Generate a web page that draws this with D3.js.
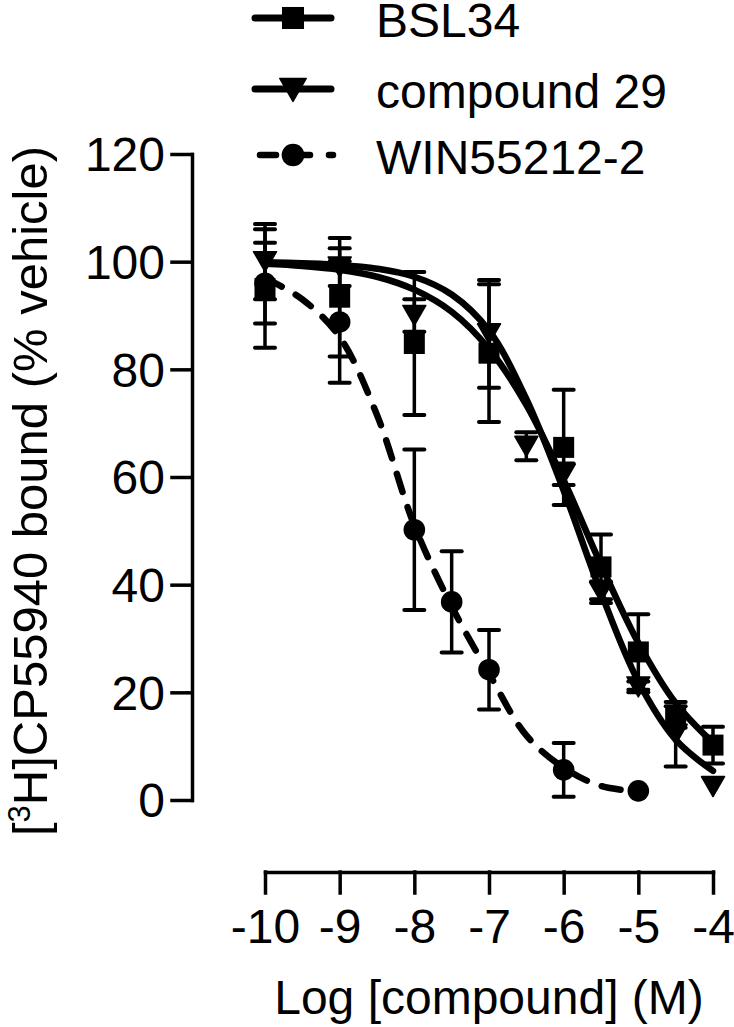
<!DOCTYPE html>
<html>
<head>
<meta charset="utf-8">
<script src="https://cdn.jsdelivr.net/npm/d3@7"></script>
<style>
  html, body { margin: 0; padding: 0; background: #fff; }
  svg { display: block; }
  text { font-family: "Liberation Sans", Arial, Helvetica, sans-serif; fill: #000; }
</style>
</head>
<body>
<svg id="chart" width="734" height="1027"></svg>
<script>
// ---------- data ----------
const xTicks = [-10, -9, -8, -7, -6, -5, -4];
const xMinorTicks = [-9.5, -8.5, -7.5, -6.5, -5.5, -4.5];
const yTicks = [0, 20, 40, 60, 80, 100, 120];
const yMinorTicks = [10, 30, 50, 70, 90, 110];

const seriesNames = ["BSL34", "compound 29", "WIN55212-2"];

// BSL34 (squares)
const bslX   = [-10, -9, -8, -7, -6, -5.5, -5, -4.5, -4];
const bslY   = [95, 93.4, 84.8, 83, 65.5, 43.3, 27.5, 15.4, 10.2];
const bslErr = [11, 11, 13.3, 12.8, 10.7, 6, 7, 2, 3.4];

// compound 29 (down triangles)
const c29X   = [-10, -9, -8, -7, -6.5, -6, -5.5, -5, -4.5, -4];
const c29Y   = [100, 99, 90, 86.6, 65.7, 60.5, 38.6, 21, 12.2, 2.5];
const c29Err = [7, 3.5, 3, 10, 2.6, 2, 2, 1, 6, 0];

// WIN55212-2 (circles)
const winX   = [-10, -9, -8, -7.5, -7, -6, -5];
const winY   = [96, 88.8, 50.2, 36.8, 24.2, 5.6, 1.7];
const winErr = [7.5, 11.3, 14.9, 9.4, 7.4, 5, 0];

// fitted curves
const fitX        = [-10, -9.5, -9, -8.5, -8, -7.5, -7, -6.5, -6, -5.5, -5, -4.5, -4];
const bslFit      = [99.6, 99.2, 98.5, 97.2, 94.8, 90.7, 83.8, 73.4, 59.4, 43.7, 29.2, 18, 10.6];
const c29Fit      = [99.9, 99.7, 99.4, 98.7, 97.2, 93.9, 87.2, 74.5, 57.5, 38.5, 22, 11.2, 5.4];
const winFitX     = [-10, -9.5, -9, -8.5, -8, -7.5, -7, -6.5, -6, -5.5, -5];
const winFit      = [97, 93, 86, 71.5, 51, 36, 23.5, 12, 6, 2.6, 1.6];

// ---------- drawing ----------
const svg = d3.select("#chart");
const FONT = 48;

const x = d3.scaleLinear().domain([-10, -4]).range([265, 713]);
const y = d3.scaleLinear().domain([0, 120]).range([800, 154]);

const AXW = 3.5;

// X axis (offset below plot)
const xAxisG = svg.append("g").attr("transform", "translate(0,872)");
xAxisG.call(d3.axisBottom(x).tickValues(xMinorTicks).tickSize(13).tickSizeOuter(0).tickFormat(""));
xAxisG.call(d3.axisBottom(x).tickValues(xTicks).tickSize(21).tickSizeOuter(0).tickFormat(d => d));
xAxisG.selectAll("path, line").attr("stroke", "#000").attr("stroke-width", AXW).attr("stroke-linecap", "square");
xAxisG.selectAll("text").attr("y", 71).attr("dy", 0)
  .style("font-size", FONT + "px").style("font-family", "'Liberation Sans', Arial, sans-serif").attr("fill", "#000");

// Y axis (offset left of plot)
const yAxisG = svg.append("g").attr("transform", "translate(192,0)");
yAxisG.call(d3.axisLeft(y).tickValues(yMinorTicks).tickSize(13).tickSizeOuter(0).tickFormat(""));
yAxisG.call(d3.axisLeft(y).tickValues(yTicks).tickSize(20).tickSizeOuter(0).tickFormat(d => d));
yAxisG.selectAll("path, line").attr("stroke", "#000").attr("stroke-width", AXW).attr("stroke-linecap", "square");
yAxisG.selectAll("text").attr("x", -27).attr("dy", "0.35em")
  .style("font-size", FONT + "px").style("font-family", "'Liberation Sans', Arial, sans-serif").attr("fill", "#000");

// axis titles
svg.append("text")
  .attr("x", (x(-10) + x(-4)) / 2).attr("y", 1014)
  .attr("text-anchor", "middle")
  .style("font-size", FONT + "px")
  .text("Log [compound] (M)");

const yTitle = svg.append("text")
  .attr("transform", `translate(47,${(y(0) + y(120)) / 2 + 14}) rotate(-90)`)
  .attr("text-anchor", "middle")
  .style("font-size", "49px");
yTitle.append("tspan").text("[");
yTitle.append("tspan").attr("dy", -17).style("font-size", "31px").text("3");
yTitle.append("tspan").attr("dy", 17).text("H]CP55940 bound (% vehicle)");

// markers
function downTri(w, h) {
  return `M${-w / 2},${-h / 2}L${w / 2},${-h / 2}L0,${h / 2}Z`;
}
function drawMarker(g, type, cx, cy, scale = 1) {
  if (type === "square") {
    const s = 21 * scale;
    g.append("rect").attr("x", cx - s / 2).attr("y", cy - s / 2).attr("width", s).attr("height", s)
      .attr("fill", "#000");
  } else if (type === "tri") {
    g.append("path").attr("d", downTri(23 * scale, 20 * scale))
      .attr("transform", `translate(${cx},${cy})`).attr("fill", "#000")
      .attr("stroke", "#000").attr("stroke-width", 1.5).attr("stroke-linejoin", "round");
  } else {
    g.append("circle").attr("cx", cx).attr("cy", cy).attr("r", 10.8 * scale).attr("fill", "#000");
  }
}

const LW = 6.5;
const line = d3.line().x(d => x(d[0])).y(d => y(d[1])).curve(d3.curveCatmullRom.alpha(0.5));

const series = [
  { name: seriesNames[0], xs: bslX, ys: bslY, es: bslErr, fx: fitX, fy: bslFit, mk: "square", dash: null },
  { name: seriesNames[1], xs: c29X, ys: c29Y, es: c29Err, fx: fitX, fy: c29Fit, mk: "tri", dash: null },
  { name: seriesNames[2], xs: winX, ys: winY, es: winErr, fx: winFitX, fy: winFit, mk: "circle", dash: "19 16" }
];

const plotG = svg.append("g");

// error bars
series.forEach(s => {
  const g = plotG.append("g");
  s.xs.forEach((xv, i) => {
    const e = s.es[i];
    if (!e) return;
    const px = x(xv), top = y(s.ys[i] + e), bot = y(s.ys[i] - e);
    g.append("line").attr("x1", px).attr("x2", px).attr("y1", top).attr("y2", bot)
      .attr("stroke", "#000").attr("stroke-width", 3.5);
    [top, bot].forEach(cy => {
      g.append("line").attr("x1", px - 10).attr("x2", px + 10).attr("y1", cy).attr("y2", cy)
        .attr("stroke", "#000").attr("stroke-width", 4).attr("stroke-linecap", "round");
    });
  });
});

// fit curves
series.forEach(s => {
  const pts = s.fx.map((xv, i) => [xv, s.fy[i]]);
  const p = plotG.append("path").attr("d", line(pts))
    .attr("fill", "none").attr("stroke", "#000").attr("stroke-width", LW)
    .attr("stroke-linecap", "round").attr("stroke-linejoin", "round");
  if (s.dash) p.attr("stroke-dasharray", s.dash);
});

// points
series.forEach(s => {
  const g = plotG.append("g");
  s.xs.forEach((xv, i) => drawMarker(g, s.mk, x(xv), y(s.ys[i])));
});

// legend
const legRows = [18, 89, 155];
const legG = svg.append("g");
series.forEach((s, i) => {
  const ly = legRows[i];
  if (s.dash) {
    legG.append("line").attr("x1", 260).attr("x2", 276).attr("y1", ly).attr("y2", ly)
      .attr("stroke", "#000").attr("stroke-width", LW).attr("stroke-linecap", "round");
    legG.append("line").attr("x1", 295).attr("x2", 310).attr("y1", ly).attr("y2", ly)
      .attr("stroke", "#000").attr("stroke-width", LW).attr("stroke-linecap", "round");
    legG.append("line").attr("x1", 329).attr("x2", 333).attr("y1", ly).attr("y2", ly)
      .attr("stroke", "#000").attr("stroke-width", LW).attr("stroke-linecap", "round");
  } else {
    legG.append("line").attr("x1", 255).attr("x2", 331).attr("y1", ly).attr("y2", ly)
      .attr("stroke", "#000").attr("stroke-width", 7).attr("stroke-linecap", "round");
  }
  drawMarker(legG, s.mk, 293, s.mk === "tri" ? ly + 1 : ly, s.mk === "tri" ? 1.15 : 1.05);
  legG.append("text").attr("x", 376).attr("y", ly + 19)
    .style("font-size", FONT + "px").text(s.name);
});
</script>
</body>
</html>
